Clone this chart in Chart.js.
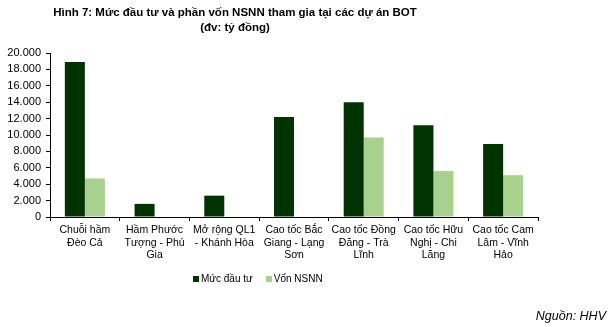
<!DOCTYPE html>
<html>
<head>
<meta charset="utf-8">
<script src="https://cdn.jsdelivr.net/npm/chart.js@4"></script>
<style>
  html, body { margin: 0; padding: 0; background: #fff; }
  #wrap { position: relative; width: 614px; height: 327px; font-family: "Liberation Sans", Arial, sans-serif; }
  #chart { position: absolute; left: 0; top: 0; }
  .title { position: absolute; left: 35px; width: 400px; text-align: center; font-weight: bold; font-size: 11.5px; color: #000; }
  #legend { position: absolute; top: 273px; left: 193px; font-size: 10px; color: #000; display: flex; align-items: center; }
  #legend .box { display: inline-block; width: 6px; height: 6px; margin-right: 2px; }
  #legend span.item { display: inline-flex; align-items: center; margin-right: 13px; }
  #src { position: absolute; right: 8px; top: 309px; font-size: 12.5px; font-style: italic; color: #000; }
</style>
</head>
<body>
<div id="wrap">
  <canvas id="chart" width="614" height="327"></canvas>
  <div class="title" style="top:6px">Hình 7: Mức đầu tư và phần vốn NSNN tham gia tại các dự án BOT</div>
  <div class="title" style="top:21px">(đv: tỷ đồng)</div>
  <div id="legend"></div>
  <div id="src">Nguồn: HHV</div>
</div>
<script>
// ===== Data =====
const categories = [
  ['Chuỗi hầm', 'Đèo Cả'],
  ['Hầm Phước', 'Tượng - Phú', 'Gia'],
  ['Mở rộng QL1', '- Khánh Hòa'],
  ['Cao tốc Bắc', 'Giang - Lạng', 'Sơn'],
  ['Cao tốc Đồng', 'Đăng - Trà', 'Lĩnh'],
  ['Cao tốc Hữu', 'Nghị - Chi', 'Lăng'],
  ['Cao tốc Cam', 'Lâm - Vĩnh', 'Hảo']
];
const mucDauTu = [18900, 1600, 2600, 12200, 14000, 11200, 8900];
const vonNSNN  = [4700, null, null, null, 9700, 5600, 5100];
const seriesNames = ['Mức đầu tư', 'Vốn NSNN'];
const seriesColors = ['#013300', '#a9d18e'];

// ===== Helpers =====
const fmtVN = v => String(v).replace(/\B(?=(\d{3})+(?!\d))/g, '.');

// simple html legend
const legendEl = document.getElementById('legend');
seriesNames.forEach((n, i) => {
  legendEl.innerHTML += `<span class="item"><span class="box" style="background:${seriesColors[i]}"></span>${n}</span>`;
});

const ctx = document.getElementById('chart').getContext('2d');
new Chart(ctx, {
  type: 'bar',
  data: {
    labels: categories,
    datasets: [
      { label: seriesNames[0], data: mucDauTu, backgroundColor: seriesColors[0] },
      { label: seriesNames[1], data: vonNSNN, backgroundColor: seriesColors[1] }
    ]
  },
  options: {
    responsive: false, animation: false,
    layout: { padding: { top: 53, right: 76, bottom: 0, left: 0 } },
    datasets: { bar: { barPercentage: 1, categoryPercentage: 0.574 } },
    plugins: { legend: { display: false }, title: { display: false }, tooltip: { enabled: false } },
    scales: {
      x: {
        grid: { display: true, drawOnChartArea: false, offset: true, color: '#000', tickLength: 4, tickColor: '#000' },
        border: { color: '#000' },
        ticks: { color: '#000', font: { family: 'Liberation Sans', size: 10.5, lineHeight: 1.2 }, padding: 3, maxRotation: 0, autoSkip: false },
        afterFit: s => { s.height = 110; }
      },
      y: {
        min: 0, max: 20000,
        grid: { display: true, drawOnChartArea: false, color: '#000', tickLength: 4, tickColor: '#000' },
        border: { color: '#000' },
        ticks: { stepSize: 2000, color: '#000', font: { family: 'Liberation Sans', size: 11 }, padding: 5, callback: v => fmtVN(v) },
        afterFit: s => { s.width = 50; }
      }
    }
  }
});
</script>
</body>
</html>
